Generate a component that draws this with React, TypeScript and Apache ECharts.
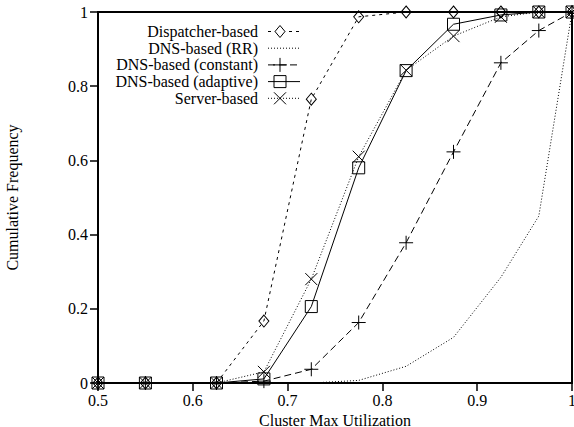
import React, { useEffect, useRef } from "react";
import * as echarts from "echarts";

const xValues = [0.5, 0.55, 0.625, 0.675, 0.725, 0.775, 0.825, 0.875, 0.925, 0.965, 1];
const seriesNames = [
  "Dispatcher-based",
  "DNS-based (RR)",
  "DNS-based (constant)",
  "DNS-based (adaptive)",
  "Server-based",
];
const dispatcherVals = [0, 0, 0, 0.167, 0.765, 0.987, 1, 1, 1, 1, 1];
const rrVals = [0, 0, 0, 0, 0, 0.007, 0.045, 0.123, 0.285, 0.45, 1];
const constantVals = [0, 0, 0, 0.005, 0.037, 0.163, 0.378, 0.623, 0.863, 0.95, 1];
const adaptiveVals = [0, 0, 0, 0.011, 0.206, 0.58, 0.842, 0.967, 0.992, 1, 1];
const serverVals = [0, 0, 0, 0.03, 0.28, 0.61, 0.843, 0.935, 0.987, 1, 1];
const xTickInterval = 0.1;
const yTickInterval = 0.2;

const FONT = "Liberation Serif";
const PLUS = "path://M0,5L10,5M5,0L5,10";
const CROSS = "path://M0,0L10,10M10,0L0,10";

export default function App() {
  const ref = useRef<HTMLDivElement>(null);
  useEffect(() => {
    document.body.style.margin = "0";
    if (!ref.current) return;
    const chart = echarts.init(ref.current, undefined, { renderer: "svg" });
    const pts = (vals: number[]) => xValues.map((x, i) => [x, vals[i]]);
    const markerStyle = { color: "rgba(0,0,0,0)", borderColor: "#000", borderWidth: 1 };
    const mk = (
      name: string,
      vals: number[],
      symbol: string,
      symbolSize: number | number[],
      dash: any
    ) => ({
      name,
      type: "line",
      data: pts(vals),
      symbol,
      symbolSize,
      showAllSymbol: true,
      clip: false,
      itemStyle: markerStyle,
      lineStyle: { color: "#000", width: 1, type: dash },
      emphasis: { disabled: true },
    });

    const legendY0 = 31.5;
    const legendDy = 16.7;
    const dashes: any[] = [[3, 4], [1, 2], [7, 4], "solid", [1, 2]];
    const graphics: any[] = [];
    seriesNames.forEach((n, i) => {
      const y = legendY0 + i * legendDy;
      graphics.push({
        type: "text",
        x: 258,
        y,
        style: {
          text: n,
          fontFamily: FONT,
          fontSize: 16,
          lineHeight: 16,
          fill: "#000",
          align: "right",
          verticalAlign: "middle",
        },
      });
      graphics.push({
        type: "line",
        shape: { x1: 268, y1: y, x2: 300, y2: y },
        style: {
          stroke: "#000",
          lineWidth: 1,
          lineDash: dashes[i] === "solid" ? null : dashes[i],
        },
      });
      const cx = 280;
      const ms = { stroke: "#000", lineWidth: 1, fill: "rgba(0,0,0,0)" };
      if (i === 0) {
        graphics.push({
          type: "polygon",
          shape: { points: [[cx, y - 6], [cx + 5, y], [cx, y + 6], [cx - 5, y]] },
          style: { ...ms, fill: "#fff" },
        });
      } else if (i === 2) {
        graphics.push({ type: "line", shape: { x1: cx - 7, y1: y, x2: cx + 7, y2: y }, style: ms });
        graphics.push({ type: "line", shape: { x1: cx, y1: y - 7, x2: cx, y2: y + 7 }, style: ms });
      } else if (i === 3) {
        graphics.push({ type: "rect", shape: { x: cx - 6, y: y - 6, width: 12, height: 12 }, style: ms });
      } else if (i === 4) {
        graphics.push({ type: "line", shape: { x1: cx - 6, y1: y - 6, x2: cx + 6, y2: y + 6 }, style: ms });
        graphics.push({ type: "line", shape: { x1: cx + 6, y1: y - 6, x2: cx - 6, y2: y + 6 }, style: ms });
      }
    });

    chart.setOption({
      animation: false,
      backgroundColor: "#fff",
      textStyle: { fontFamily: FONT },
      grid: {
        left: 98,
        right: 2,
        top: 12,
        bottom: 44,
        containLabel: false,
        outerBoundsMode: "none",
        show: true,
        borderColor: "#000",
        borderWidth: 2,
        backgroundColor: "rgba(0,0,0,0)",
      },
      xAxis: {
        type: "value",
        min: 0.5,
        max: 1,
        interval: xTickInterval,
        name: "Cluster Max Utilization",
        nameLocation: "middle",
        nameGap: 22,
        nameTextStyle: {
          fontFamily: FONT,
          fontSize: 16,
          lineHeight: 16,
          color: "#000",
          verticalAlign: "top",
        },
        axisLine: { lineStyle: { color: "#000", width: 2 } },
        axisTick: { show: true, length: 8, lineStyle: { color: "#000", width: 1.5 } },
        axisLabel: { fontFamily: FONT, fontSize: 16, color: "#000", margin: 9 },
        splitLine: { show: false },
      },
      yAxis: {
        type: "value",
        min: 0,
        max: 1,
        interval: yTickInterval,
        name: "Cumulative Frequency",
        nameLocation: "middle",
        nameRotate: 90,
        nameGap: 78,
        nameTextStyle: { fontFamily: FONT, fontSize: 16, color: "#000" },
        axisLine: { lineStyle: { color: "#000", width: 2 } },
        axisTick: { show: true, length: 8, lineStyle: { color: "#000", width: 1.5 } },
        axisLabel: { fontFamily: FONT, fontSize: 16, color: "#000", margin: 10 },
        splitLine: { show: false },
      },
      series: [
        mk(seriesNames[0], dispatcherVals, "diamond", [10, 12], [3, 4]),
        mk(seriesNames[1], rrVals, "none", 0, [1, 2]),
        mk(seriesNames[2], constantVals, PLUS, 14, [7, 4]),
        mk(seriesNames[3], adaptiveVals, "rect", 12, "solid"),
        mk(seriesNames[4], serverVals, CROSS, 12, [1, 2]),
      ],
      graphic: graphics,
    });
    return () => chart.dispose();
  }, []);
  return <div ref={ref} style={{ width: 574, height: 427 }} />;
}
